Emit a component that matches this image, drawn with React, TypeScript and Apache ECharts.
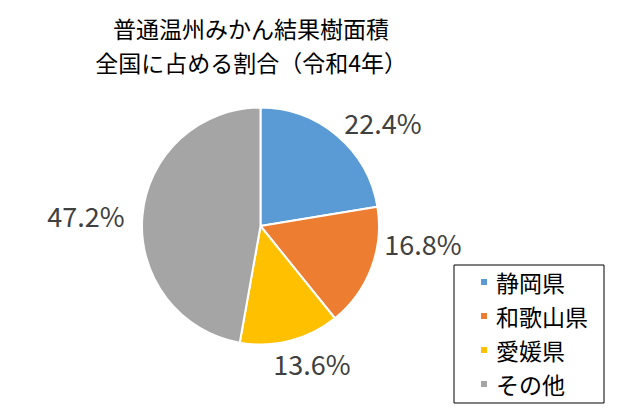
import React, { useEffect, useRef } from "react";
import * as echarts from "echarts";

const titleLines = ["普通温州みかん結果樹面積", "全国に占める割合（令和4年）"];
const categories = ["静岡県", "和歌山県", "愛媛県", "その他"];
const shares = [22.4, 16.8, 13.6, 47.2];
const colors = ["#5B9BD5", "#ED7D31", "#FFC000", "#A5A5A5"];
// label anchor points (text centers) as placed in the reference
const labelX = [383, 423, 312, 86];
const labelY = [122, 243, 363, 215];

const FONT = "'Noto Sans CJK JP', 'Noto Sans', sans-serif";

export default function App() {
  const ref = useRef<HTMLDivElement>(null);
  useEffect(() => {
    if (!ref.current) return;
    const chart = echarts.init(ref.current, null, { renderer: "svg" });
    const titleStyle = {
      fontFamily: FONT,
      fontSize: 23,
      fontWeight: "normal",
      color: "#000000",
      lineHeight: 28,
    };
    chart.setOption({
      animation: false,
      backgroundColor: "#ffffff",
      title: titleLines.map((t, i) => ({
        text: t,
        left: 251,
        textAlign: "center",
        top: 14 + i * 34,
        padding: 0,
        textStyle: titleStyle,
      })),
      legend: {
        orient: "vertical",
        left: 454,
        top: 265,
        data: categories,
        icon: "rect",
        itemWidth: 8,
        itemHeight: 8,
        itemGap: 10,
        padding: [5, 16, 7, 25],
        borderColor: "#000000",
        borderWidth: 1,
        textStyle: {
          fontFamily: FONT,
          fontSize: 23,
          color: "#000000",
          lineHeight: 24,
          padding: [0, 0, 0, 3],
        },
      },
      series: [
        {
          type: "pie",
          center: [260.5, 226],
          radius: 118.5,
          startAngle: 90,
          clockwise: true,
          data: categories.map((c, i) => ({
            name: c,
            value: shares[i],
            itemStyle: { color: colors[i] },
          })),
          itemStyle: { borderColor: "#ffffff", borderWidth: 2 },
          label: {
            show: true,
            position: "outside",
            formatter: (p: any) => p.value.toFixed(1) + "%",
            fontFamily: FONT,
            fontSize: 27,
            color: "#404040",
          },
          labelLine: { show: false },
          labelLayout: (p: any) => ({
            x: labelX[p.dataIndex],
            y: labelY[p.dataIndex],
            align: "center",
            verticalAlign: "middle",
          }),
          emphasis: { disabled: true },
        },
      ],
    });
    return () => chart.dispose();
  }, []);
  return <div ref={ref} style={{ width: 631, height: 419, margin: -8 }} />;
}
